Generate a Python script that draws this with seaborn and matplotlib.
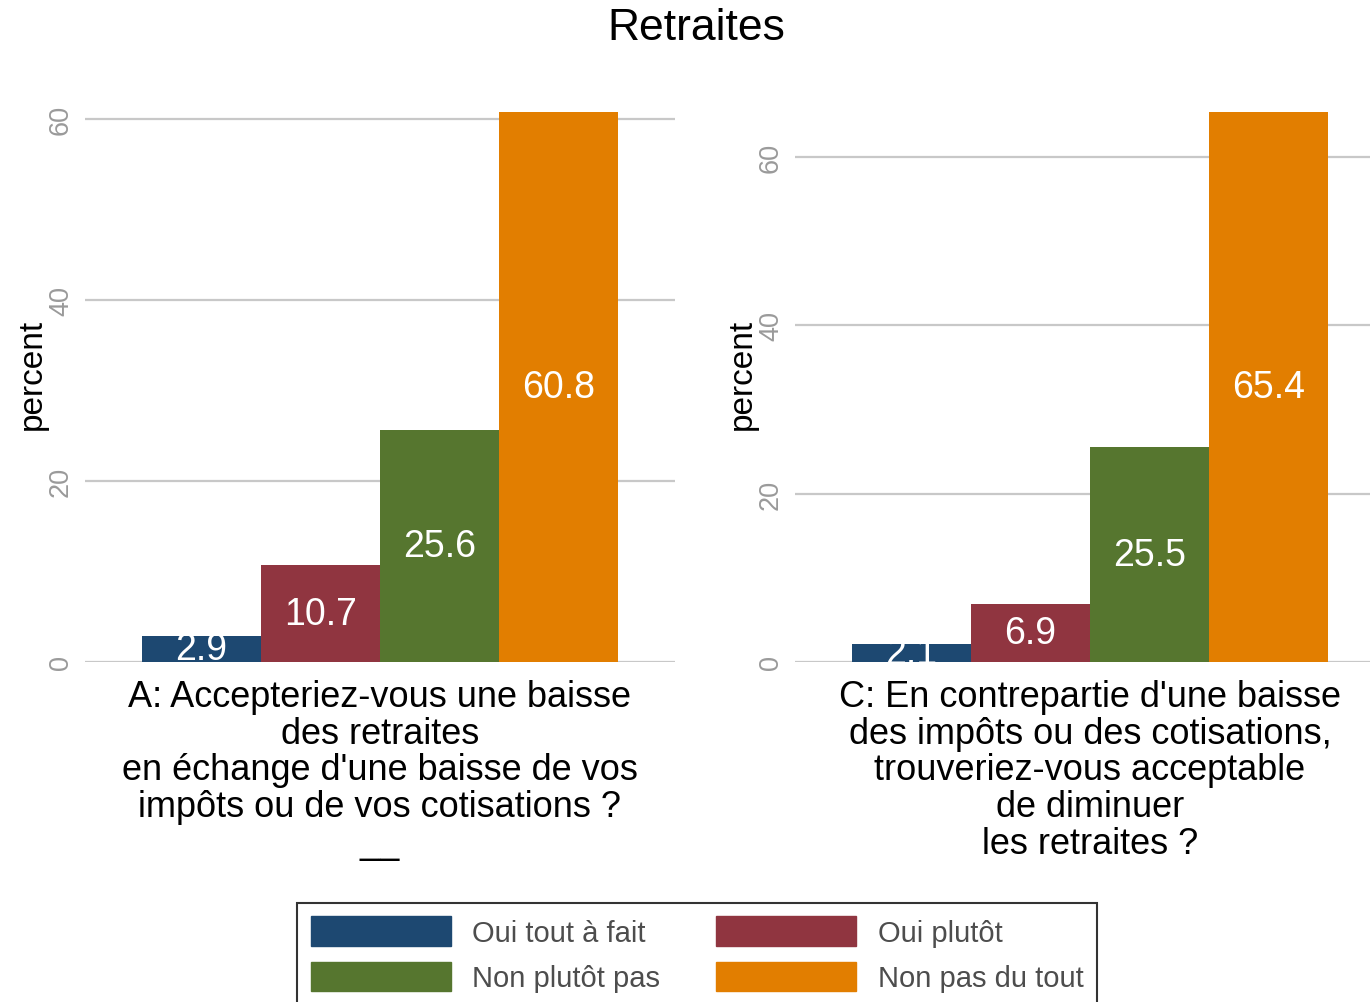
import pandas as pd
import matplotlib
matplotlib.use('Agg')
import matplotlib.pyplot as plt
import seaborn as sns

# data
questions = [
    "A: Accepteriez-vous une baisse\ndes retraites\nen échange d'une baisse de vos\nimpôts ou de vos cotisations ?\n__",
    "C: En contrepartie d'une baisse\ndes impôts ou des cotisations,\ntrouveriez-vous acceptable\nde diminuer\nles retraites ?",
]
responses = ["Oui tout à fait", "Oui plutôt", "Non plutôt pas", "Non pas du tout"]
values_a = [2.9, 10.7, 25.6, 60.8]
values_c = [2.1, 6.9, 25.5, 65.4]
colors = ['#1d4871', '#903540', '#56762f', '#e27e00']

df = pd.DataFrame({
    'question': [questions[0]] * 4 + [questions[1]] * 4,
    'response': responses * 2,
    'percent': values_a + values_c,
})

sns.set_theme(style='white')
plt.rcParams['font.family'] = ['Liberation Sans', 'DejaVu Sans']

W, H = 1370, 1003
fig = plt.figure(figsize=(W / 100, H / 100), dpi=100)

panels = [
    (questions[0], [85, 590]),
    (questions[1], [795, 590]),
]

for q, (left, width) in panels:
    ax = fig.add_axes([left / W, 1 - 663 / H, width / W, (663 - 85) / H])
    sub = df[df['question'] == q]
    sns.barplot(data=sub, x='question', y='percent', hue='response',
                hue_order=responses, palette=colors, width=0.97,
                saturation=1, linewidth=0, legend=False, ax=ax)
    ymax = sub['percent'].max()
    ax.set_ylim(0, ymax * 1.05)
    ax.set_xlim(-0.6, 0.6)
    ax.set_yticks([0, 20, 40, 60])
    ax.yaxis.grid(True, color='#c8c8c8', linewidth=1.6)
    ax.set_axisbelow(True)
    for s in ax.spines.values():
        s.set_visible(False)
    ax.tick_params(axis='y', labelsize=19.5, labelcolor='#9a9a9a', length=0, pad=8)
    for t in ax.get_yticklabels():
        t.set_rotation(90)
        t.set_va('center')
    ax.tick_params(axis='x', labelsize=26, labelcolor='black', length=0, pad=12)
    for t in ax.get_xticklabels():
        t.set_linespacing(1.07)
    ax.set_xlabel('')
    ax.set_ylabel('percent', fontsize=24, color='black', labelpad=0)
    for c in ax.containers:
        ax.bar_label(c, fmt='%.1f', label_type='center', color='white', fontsize=27)

fig.suptitle('Retraites', fontsize=32, color='black', x=696 / W, y=1 - 28 / H, va='center')

order = [0, 2, 1, 3]
handles = [plt.Rectangle((0, 0), 1, 1, color=colors[i]) for i in order]
labels = [responses[i] for i in order]
leg = fig.legend(handles, labels, loc='upper center',
                 bbox_to_anchor=(697 / W, 1 - 904 / H), ncol=2,
                 fontsize=21, frameon=True, fancybox=False,
                 edgecolor='black', handlelength=4.8, handleheight=1.2,
                 handletextpad=0.75, columnspacing=1.9, labelspacing=0.5,
                 borderpad=0.45, borderaxespad=0)
leg.get_frame().set_linewidth(1.5)
for t in leg.get_texts():
    t.set_color('#4d4d4d')

fig.savefig('out.png', dpi=100)
